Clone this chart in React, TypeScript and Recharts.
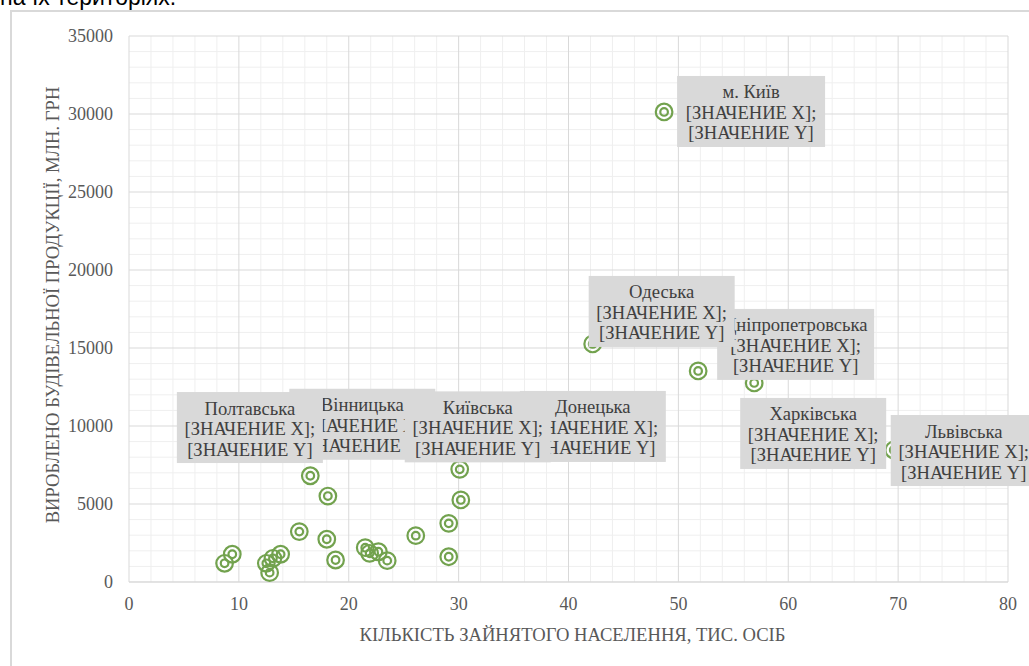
import React from 'react';
import { ScatterChart, Scatter, XAxis, YAxis, CartesianGrid, Label } from 'recharts';

const regions = ['Вінницька', 'Волинська', 'Дніпропетровська', 'Донецька', 'Житомирська', 'Закарпатська', 'Запорізька', 'Івано-Франківська', 'Київська', 'Кіровоградська', 'Луганська', 'Львівська', 'Миколаївська', 'Одеська', 'Полтавська', 'Рівненська', 'Сумська', 'Тернопільська', 'Харківська', 'Херсонська', 'Хмельницька', 'Черкаська', 'Чернівецька', 'Чернігівська', 'м. Київ'];
const employed = [16.5, 13.1, 51.8, 30.2, 18.8, 12.5, 26.1, 18.0, 30.1, 9.4, 8.7, 69.6, 21.5, 42.2, 18.1, 15.5, 13.8, 21.9, 56.9, 12.8, 29.1, 22.7, 23.5, 29.1, 48.7];
const output = [6810, 1520, 13530, 5260, 1410, 1200, 2970, 2740, 7220, 1780, 1200, 8460, 2200, 15260, 5510, 3230, 1780, 1840, 12760, 600, 3760, 1940, 1370, 1620, 30130];

const labeledRegions = ['Вінницька', 'Дніпропетровська', 'Донецька', 'Київська', 'Львівська', 'Одеська', 'Полтавська', 'Харківська', 'м. Київ'];
const labelLine2 = '[ЗНАЧЕНИЕ X];';
const labelLine3 = '[ЗНАЧЕНИЕ Y]';

const xTicks = [0, 10, 20, 30, 40, 50, 60, 70, 80];
const yTicks = [0, 5000, 10000, 15000, 20000, 25000, 30000, 35000];
const xMinor = [2, 4, 6, 8, 12, 14, 16, 18, 22, 24, 26, 28, 32, 34, 36, 38, 42, 44, 46, 48, 52, 54, 56, 58, 62, 64, 66, 68, 72, 74, 76, 78];
const yMinor = [1000, 2000, 3000, 4000, 6000, 7000, 8000, 9000, 11000, 12000, 13000, 14000, 16000, 17000, 18000, 19000, 21000, 22000, 23000, 24000, 26000, 27000, 28000, 29000, 31000, 32000, 33000, 34000];

const xTitle = 'КІЛЬКІСТЬ ЗАЙНЯТОГО НАСЕЛЕННЯ, ТИС. ОСІБ';
const yTitle = 'ВИРОБЛЕНО БУДІВЕЛЬНОЇ ПРОДУКЦІЇ, МЛН. ГРН';
const headerText = 'на їх територіях.';

// label box placement (manually dragged labels in the original), relative to point
const labelLayout: Record<string, { dx: number; dy: number; w: number }> = {
  'Вінницька': { dx: -21, dy: -87, w: 146 },
  'Полтавська': { dx: -151, dy: -104, w: 146 },
  'Київська': { dx: -55, dy: -78, w: 146 },
  'Донецька': { dx: 59, dy: -109, w: 146 },
  'Одеська': { dx: -4, dy: -68, w: 146 },
  'Дніпропетровська': { dx: 19, dy: -62, w: 157 },
  'Харківська': { dx: -14, dy: 15, w: 146 },
  'Львівська': { dx: -3, dy: -35, w: 146 },
  'м. Київ': { dx: 13, dy: -36, w: 148 },
};

const data = regions.map((name, i) => ({ name, x: employed[i], y: output[i] }));

const GREEN = '#72a24e';
const SERIF = '"Liberation Serif", "Times New Roman", serif';

const Marker = (props: any) => {
  const { cx, cy } = props;
  if (cx == null || cy == null) return null;
  return (
    <g>
      <circle cx={cx} cy={cy} r={8.3} fill="none" stroke={GREEN} strokeWidth={2.2} />
      <circle cx={cx} cy={cy} r={3.8} fill="none" stroke={GREEN} strokeWidth={2.2} />
    </g>
  );
};

const LabelBox = (props: any) => {
  const { cx, cy, payload } = props;
  if (cx == null || cy == null || !payload) return null;
  if (!labeledRegions.includes(payload.name)) return <g />;
  const l = labelLayout[payload.name];
  const x0 = cx + l.dx;
  const y0 = cy + l.dy;
  const h = 71;
  const mid = x0 + l.w / 2;
  const lines = [payload.name, labelLine2, labelLine3];
  return (
    <g>
      <rect x={x0} y={y0} width={l.w} height={h} fill="#d9d9d9" />
      {lines.map((t, k) => (
        <text key={k} x={mid} y={y0 + 16 + k * 20.5} textAnchor="middle" dominantBaseline="central"
          fontFamily={SERIF} fontSize={18.6} fill="#404040">{t}</text>
      ))}
    </g>
  );
};

export default function App() {
  return (
    <div style={{ position: 'fixed', left: 0, top: 0, width: 1029, height: 666, background: '#fff', overflow: 'hidden' }}>
      <div style={{ position: 'absolute', left: 0, top: -14, fontFamily: '"Liberation Sans", Arial, sans-serif', fontSize: 23, color: '#000', lineHeight: '23px', whiteSpace: 'nowrap' }}>
        {headerText}
      </div>
      <div style={{ position: 'absolute', left: 10, top: 10, width: 1100, height: 800, border: '2px solid #d9d9d9', boxSizing: 'border-box' }} />
      <div style={{ position: 'absolute', left: 0, top: 0 }}>
        <ScatterChart width={1029} height={666} margin={{ top: 36, right: 21, bottom: 24, left: 29 }}>
          <CartesianGrid stroke="#efefef" strokeWidth={1} verticalValues={xMinor} horizontalValues={yMinor} />
          <CartesianGrid stroke="#d9d9d9" strokeWidth={1} />
          <XAxis type="number" dataKey="x" domain={[0, 80]} ticks={xTicks} height={60}
            axisLine={{ stroke: '#d9d9d9' }} tickLine={false} tickSize={0} tickMargin={15}
            tick={{ fill: '#595959', fontFamily: SERIF, fontSize: 18 }} interval={0}>
            <Label value={xTitle} position="center" dx={4} dy={22} style={{ fill: '#595959', fontFamily: SERIF, fontSize: 18.6 }} />
          </XAxis>
          <YAxis type="number" dataKey="y" domain={[0, 35000]} ticks={yTicks} width={100}
            axisLine={false} tickLine={false} tickSize={0} tickMargin={16}
            tick={{ fill: '#595959', fontFamily: SERIF, fontSize: 18 }} interval={0}>
            <Label value={yTitle} position="center" angle={-90} dx={-27} dy={-4} style={{ fill: '#595959', fontFamily: SERIF, fontSize: 18.6, textAnchor: 'middle' }} />
          </YAxis>
          <Scatter data={data} shape={Marker} isAnimationActive={false} />
          <Scatter data={data} shape={LabelBox} isAnimationActive={false} />
        </ScatterChart>
      </div>
    </div>
  );
}
